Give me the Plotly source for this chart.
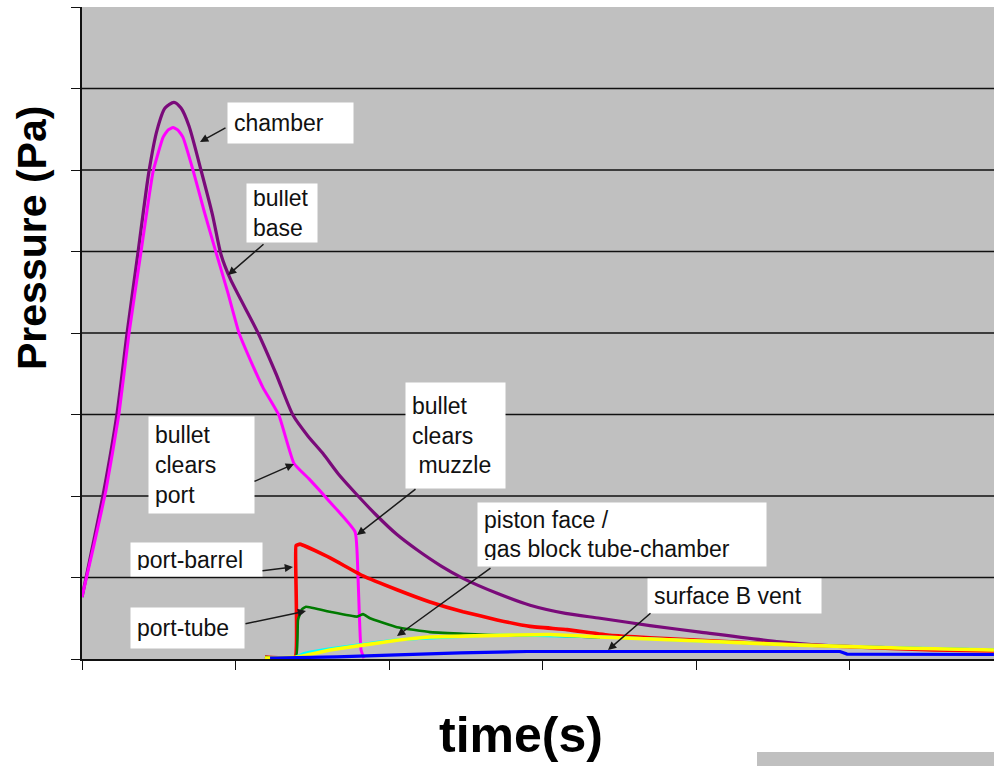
import plotly.graph_objects as go

# ---------------- data (time units: one x-tick = 1; pressure units: one gridline = 1) ----------------
chamber_t = [0.0, 0.072, 0.143, 0.228, 0.293, 0.365, 0.436, 0.489, 0.541, 0.599, 0.645, 0.697, 0.775,
             0.850, 0.906, 0.967, 1.147, 1.264, 1.375, 1.470, 1.570, 1.670, 1.779, 1.915, 2.050, 2.182,
             2.340, 2.482, 2.700, 2.919, 3.150, 3.375, 3.700, 4.026, 4.547, 4.893, 5.329, 5.941]
chamber_p = [0.76, 1.41, 2.07, 3.01, 3.99, 4.99, 5.98, 6.49, 6.76, 6.83, 6.76, 6.54, 6.00,
             5.45, 4.96, 4.66, 4.00, 3.50, 2.99, 2.74, 2.52, 2.27, 2.04, 1.77, 1.53, 1.34,
             1.14, 0.99, 0.81, 0.66, 0.56, 0.50, 0.41, 0.33, 0.21, 0.16, 0.135, 0.11]

base_t = [0.0, 0.078, 0.156, 0.241, 0.306, 0.384, 0.463, 0.528, 0.560, 0.593, 0.625, 0.658, 0.723,
          0.795, 0.873, 0.951, 1.023, 1.101, 1.179, 1.283, 1.381, 1.479, 1.609, 1.779, 1.798,
          1.818, 1.837]
base_p = [0.76, 1.40, 2.07, 3.01, 3.99, 4.99, 5.98, 6.40, 6.49, 6.52, 6.49, 6.40, 6.00,
          5.50, 4.99, 4.49, 4.00, 3.65, 3.33, 2.99, 2.40, 2.21, 1.94, 1.56, 1.01,
          0.11, 0.01]

barrel_t = [1.192, 1.388, 1.394, 1.420, 1.616, 1.831, 2.052, 2.267, 2.482, 2.704, 2.919, 3.160,
            3.440, 3.700, 4.352, 5.003, 5.544, 5.941]
barrel_p = [0.025, 0.025, 1.39, 1.41, 1.24, 1.02, 0.85, 0.70, 0.58, 0.48, 0.40, 0.36,
            0.29, 0.26, 0.20, 0.15, 0.11, 0.10]

tube_t = [1.192, 1.394, 1.407, 1.433, 1.459, 1.616, 1.792, 1.831, 1.876, 2.052, 2.267, 2.482,
          2.723, 3.049, 3.375]
tube_p = [0.025, 0.025, 0.48, 0.61, 0.64, 0.58, 0.52, 0.55, 0.50, 0.39, 0.33, 0.31,
          0.29, 0.29, 0.265]

gasblock_t = [1.394, 1.453, 1.616, 1.831, 2.052, 2.704, 3.375, 4.026, 4.678, 5.329, 5.941]
gasblock_p = [0.025, 0.07, 0.125, 0.18, 0.235, 0.295, 0.272, 0.222, 0.172, 0.138, 0.113]

piston_t = [1.192, 1.407, 1.616, 1.831, 2.052, 2.267, 2.704, 3.049, 3.375, 4.026, 4.678, 5.329, 5.941]
piston_p = [0.012, 0.025, 0.11, 0.17, 0.23, 0.27, 0.29, 0.30, 0.27, 0.22, 0.17, 0.135, 0.11]

vent_t = [1.225, 1.661, 2.052, 2.463, 2.899, 4.938, 4.984, 5.941]
vent_p = [0.012, 0.025, 0.05, 0.074, 0.092, 0.092, 0.061, 0.055]

y_ticks = [0, 1, 2, 3, 4, 5, 6, 7, 8]
y_grid = [1, 2, 3, 4, 5, 6, 7]
x_ticks = [0, 1, 2, 3, 4, 5, 6]

# ---------------- layout geometry (page pixels) ----------------
W, H = 994, 766
PL, PR, PT, PB = 82, 994, 7, 659          # plot area
XS = 153.5                                 # pixels per x unit
YS = (PB - PT) / 8.0                       # pixels per y unit
XMAX = (PR - PL) / XS


def px2x(px):
    return (px - PL) / XS


def py2y(py):
    return (PB - py) / YS


def px2paper(px):
    return (px - PL) / (PR - PL)


def py2paper(py):
    return (PB - py) / (PB - PT)


fig = go.Figure()

series = [
    (chamber_t, chamber_p, "#7a0a7a", 3.2, "chamber", 0.7),
    (base_t, base_p, "#ff00ff", 3.0, "bullet base", 0.4),
    (barrel_t, barrel_p, "#ff0000", 3.6, "port-barrel", 0.3),
    (tube_t, tube_p, "#007a00", 2.6, "port-tube", 0.3),
    (gasblock_t, gasblock_p, "#00ffff", 3.0, "gas block tube-chamber", 0.3),
    (piston_t, piston_p, "#ffff00", 3.6, "piston face", 0.3),
    (vent_t, vent_p, "#0000ff", 3.2, "surface B vent", 0.0),
]
for t, p, c, w, n, s in series:
    fig.add_trace(go.Scatter(x=t, y=p, mode="lines", name=n, hoverinfo="skip",
                             line=dict(color=c, width=w, shape="spline", smoothing=s)))

shapes = []
for g in y_grid:
    shapes.append(dict(type="line", xref="paper", yref="y", x0=0, x1=1, y0=g, y1=g,
                       line=dict(color="#111111", width=1.6), layer="below"))
# grey strip at the bottom right
shapes.append(dict(type="rect", xref="paper", yref="paper",
                   x0=px2paper(757), x1=1.0, y0=py2paper(770), y1=py2paper(752),
                   fillcolor="#c0c0c0", line=dict(width=0)))

FONT = "Liberation Sans, Arial, sans-serif"
annotations = []

# text boxes: (left, top, right, bottom) in page pixels, text
boxes = [
    ((227, 102, 352, 142), "chamber"),
    ((246, 183, 316, 241), "bullet<br>base"),
    ((148, 416, 253, 512), "bullet<br>clears<br>port"),
    ((405, 382, 504, 487), "bullet<br>clears<br>&nbsp;muzzle"),
    ((130, 542, 261, 575), "port-barrel"),
    ((130, 607, 243, 647), "port-tube"),
    ((477, 502, 765, 565), "piston face /<br>gas block tube-chamber"),
    ((647, 578, 820, 612), "surface B vent"),
]
PAD = 6
for (l, t, r, b), txt in boxes:
    annotations.append(dict(
        x=px2x(l), y=py2y(t), xref="x", yref="y", xanchor="left", yanchor="top",
        text=txt, showarrow=False, align="left", valign="middle",
        width=r - l - 2 * PAD, height=b - t - 2 * PAD, borderpad=PAD,
        bgcolor="#ffffff", font=dict(family=FONT, size=23, color="#111111")))

# arrows: (start px, start py, head px, head py) in page pixels
arrows = [
    (227, 127, 200, 142),
    (265, 243, 228, 275),
    (253, 482, 294, 464),
    (417, 488, 357, 535),
    (261, 571, 293, 567),
    (244, 624, 306, 611),
    (492, 567, 397, 636),
    (652, 612, 608, 650),
]
for sx, sy, hx, hy in arrows:
    annotations.append(dict(
        x=px2x(hx), y=py2y(hy), ax=px2x(sx), ay=py2y(sy), xref="x", yref="y",
        axref="x", ayref="y", text="", showarrow=True, arrowhead=2, arrowsize=1.1,
        arrowwidth=1.5, arrowcolor="#1a1a1a"))

# axis titles
annotations.append(dict(x=px2paper(32), y=py2paper(238), xref="paper", yref="paper",
                        xanchor="center", yanchor="middle",
                        text="<b>Pressure (Pa)</b>", showarrow=False, textangle=-90,
                        font=dict(family=FONT, size=41, color="#000000")))
annotations.append(dict(x=px2paper(521), y=py2paper(735), xref="paper", yref="paper",
                        xanchor="center", yanchor="middle",
                        text="<b>time(s)</b>", showarrow=False,
                        font=dict(family=FONT, size=50, color="#000000")))

fig.update_layout(
    width=W, height=H,
    margin=dict(l=PL, r=W - PR, t=PT, b=H - PB, pad=0),
    paper_bgcolor="#ffffff", plot_bgcolor="#c0c0c0",
    showlegend=False, hovermode=False,
    shapes=shapes, annotations=annotations,
    xaxis=dict(range=[0, XMAX], tickvals=x_ticks, showticklabels=False, ticks="outside",
               ticklen=9, tickwidth=1.4, tickcolor="#111111", showgrid=False, zeroline=False,
               showline=True, linecolor="#111111", linewidth=1.6),
    yaxis=dict(range=[0, 8], tickvals=y_ticks, showticklabels=False, ticks="outside",
               ticklen=9, tickwidth=1.4, tickcolor="#111111", showgrid=False, zeroline=False,
               showline=True, linecolor="#111111", linewidth=1.6),
)

# remove the browser's default 8px page margin so the figure fills the window exactly
fig.write_html("out.html", config={"displayModeBar": False},
               post_script="document.body.style.margin='0';document.body.style.overflow='hidden';")
